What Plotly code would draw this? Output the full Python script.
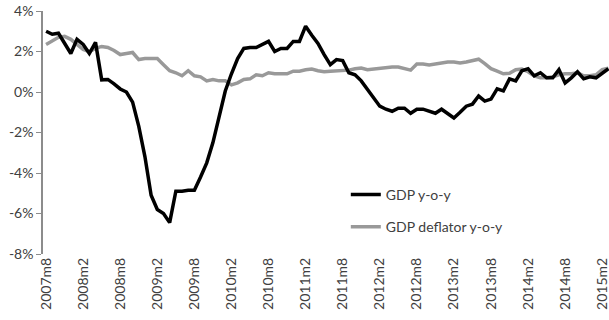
import plotly.graph_objects as go

# monthly categories 2007m8 .. 2015m3
months = []
for year in range(2007, 2016):
    for m in range(1, 13):
        if (2007, 8) <= (year, m) <= (2015, 3):
            months.append(f"{year}m{m}")

gdp_yoy = [
    3.0, 2.85, 2.9, 2.4, 1.9, 2.6, 2.35, 1.9, 2.45, 0.6,
    0.62, 0.4, 0.15, 0.0, -0.5, -1.7, -3.2, -5.1, -5.8, -6.0,
    -6.45, -4.9, -4.9, -4.85, -4.85, -4.2, -3.5, -2.5, -1.3, 0.05,
    0.9, 1.65, 2.15, 2.2, 2.2, 2.35, 2.5, 2.0, 2.15, 2.15,
    2.5, 2.5, 3.25, 2.8, 2.4, 1.85, 1.35, 1.6, 1.55, 0.95,
    0.85, 0.55, 0.15, -0.3, -0.7, -0.85, -0.95, -0.8, -0.8, -1.05,
    -0.85, -0.85, -0.95, -1.05, -0.85, -1.05, -1.28, -1.0, -0.7, -0.6,
    -0.2, -0.45, -0.35, 0.15, 0.05, 0.65, 0.55, 1.05, 1.15, 0.8,
    0.95, 0.7, 0.7, 1.1, 0.45, 0.7, 1.0, 0.65, 0.75, 0.7,
    0.95, 1.15,
]

gdp_deflator_yoy = [
    2.35, 2.55, 2.7, 2.75, 2.6, 2.35, 2.1, 2.0, 2.15, 2.25,
    2.2, 2.05, 1.85, 1.9, 1.95, 1.6, 1.65, 1.65, 1.65, 1.35,
    1.05, 0.95, 0.8, 1.05, 0.8, 0.75, 0.55, 0.62, 0.55, 0.55,
    0.35, 0.45, 0.62, 0.65, 0.85, 0.8, 0.95, 0.9, 0.9, 0.9,
    1.03, 1.03, 1.1, 1.13, 1.05, 1.0, 1.03, 1.05, 1.1, 1.08,
    1.15, 1.18, 1.1, 1.13, 1.18, 1.22, 1.23, 1.23, 1.15, 1.08,
    1.38, 1.38, 1.33, 1.38, 1.43, 1.48, 1.48, 1.43, 1.48, 1.55,
    1.62, 1.4, 1.15, 1.03, 0.9, 0.92, 1.1, 1.13, 1.0, 0.8,
    0.7, 0.7, 0.75, 0.85, 0.9, 0.9, 0.95, 0.8, 0.8, 0.85,
    1.1, 1.18,
]

y_ticks = [-8, -6, -4, -2, 0, 2, 4]
y_labels = ["-8%", "-6%", "-4%", "-2%", "0%", "2%", "4%"]

x = list(range(len(months)))
label_idx = list(range(0, len(months), 6))
minor_ticks = [i - 0.5 for i in range(3, len(months), 3)]
x_range = [-0.5, 91.1]
axis_grey = "#8c8c8c"
text_grey = "#404040"

fig = go.Figure()
fig.add_trace(go.Scatter(
    x=x, y=gdp_deflator_yoy, mode="lines", name="GDP deflator y-o-y",
    line=dict(color="#999999", width=3.5), legend="legend2", showlegend=True
))
fig.add_trace(go.Scatter(
    x=x, y=gdp_yoy, mode="lines", name="GDP y-o-y",
    line=dict(color="#000000", width=3.5), legend="legend", showlegend=True
))

fig.update_layout(
    width=609, height=320,
    margin=dict(l=43, r=0, t=11, b=66),
    plot_bgcolor="white", paper_bgcolor="white",
    showlegend=True,
    font=dict(family="Lato", size=14, color=text_grey),
    xaxis=dict(
        range=x_range, tickvals=label_idx,
        ticktext=[months[i] for i in label_idx],
        tickangle=-90, ticks="", showline=False, showgrid=False,
        zeroline=False, automargin=False, ticklabeloverflow="allow",
    ),
    xaxis2=dict(
        overlaying="x", anchor="free", position=8 / 12, range=x_range,
        showline=True, linecolor=axis_grey, linewidth=1.5,
        tickvals=minor_ticks, ticks="outside", ticklen=5, tickwidth=1,
        tickcolor=axis_grey, showticklabels=False, showgrid=False,
        zeroline=False, automargin=False,
    ),
    xaxis3=dict(
        overlaying="x", anchor="free", position=8 / 12, range=x_range,
        showline=False, tickvals=minor_ticks, ticks="inside", ticklen=5,
        tickwidth=1, tickcolor=axis_grey, showticklabels=False,
        showgrid=False, zeroline=False, automargin=False,
    ),
    yaxis=dict(
        range=[-8, 4], tickvals=y_ticks, ticktext=y_labels,
        showline=True, linecolor=axis_grey, linewidth=1.5,
        ticks="outside", ticklen=5, tickcolor=axis_grey,
        showgrid=False, zeroline=False, automargin=False,
    ),
    legend=dict(x=0.535, y=0.243, xanchor="left", yanchor="middle",
                bgcolor="rgba(0,0,0,0)", font=dict(size=14)),
    legend2=dict(x=0.535, y=0.111, xanchor="left", yanchor="middle",
                 bgcolor="rgba(0,0,0,0)", font=dict(size=14)),
)

fig.write_html("out.html", config={"displayModeBar": False},
               post_script="document.body.style.margin='0';")
